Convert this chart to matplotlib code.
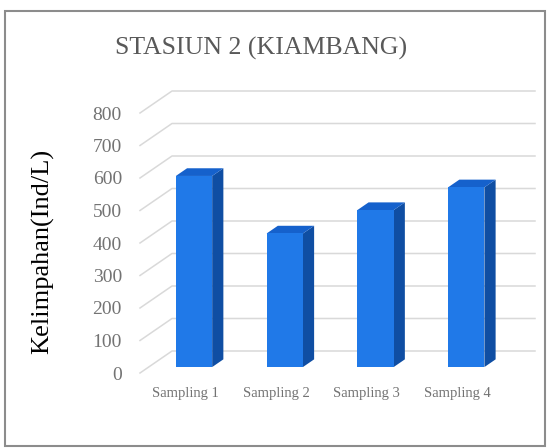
import matplotlib
matplotlib.use("Agg")
import matplotlib.pyplot as plt
from matplotlib.patches import Polygon, Rectangle

plt.rcParams['font.family'] = ['Liberation Serif', 'DejaVu Serif']

categories = ['Sampling 1', 'Sampling 2', 'Sampling 3', 'Sampling 4']
values = [588, 411, 483, 553]
yticks = [0, 100, 200, 300, 400, 500, 600, 700, 800]

W, H = 550, 448
fig = plt.figure(figsize=(W / 100, H / 100), dpi=100)

# front plane of the "3d" box, in pixels
left, right, bottom, top = 140, 503, 373, 113
ax = fig.add_axes([left / W, 1 - bottom / H, (right - left) / W, (bottom - top) / H])
ax.set_xlim(0, 4)
ax.set_ylim(0, 800)
for s in ax.spines.values():
    s.set_visible(False)

# oblique depth offset (data units for full depth)
DX = 32 / ((right - left) / 4)
DY = 22 / ((bottom - top) / 800)


def proj(x, v, d):
    return (x + d * DX, v + d * DY)


grid_c = '#d9d9d9'
for t in yticks:
    x0, y0 = proj(0, t, 0)
    x1, y1 = proj(0, t, 1)
    x2, y2 = proj(4, t, 1)
    ax.plot([x0, x1, x2], [y0, y1, y2], color=grid_c, lw=1.1, clip_on=False, zorder=1)

front_c, side_c, top_c = '#2079e8', '#0f4ea3', '#1561cc'
bw = 0.40
d0, d1 = 0.27, 0.62
for i, v in enumerate(values):
    c = i + 0.5
    xl, xr = c - bw / 2, c + bw / 2
    side = [proj(xr, 0, d0), proj(xr, 0, d1), proj(xr, v, d1), proj(xr, v, d0)]
    topf = [proj(xl, v, d0), proj(xr, v, d0), proj(xr, v, d1), proj(xl, v, d1)]
    front = [proj(xl, 0, d0), proj(xr, 0, d0), proj(xr, v, d0), proj(xl, v, d0)]
    ax.add_patch(Polygon(side, closed=True, fc=side_c, ec='none', clip_on=False, zorder=3))
    ax.add_patch(Polygon(topf, closed=True, fc=top_c, ec='none', clip_on=False, zorder=3))
    ax.add_patch(Polygon(front, closed=True, fc=front_c, ec='none', clip_on=False, zorder=4))

ax.set_yticks(yticks)
ax.set_yticklabels([str(t) for t in yticks], fontsize=14, color='#737373')
ax.set_xticks([i + 0.5 for i in range(len(categories))])
ax.set_xticklabels(categories, fontsize=10.5, color='#737373')
ax.tick_params(axis='y', length=0, pad=13)
ax.tick_params(axis='x', length=0, pad=10)

fig.text(261 / W, 1 - 48 / H, 'STASIUN 2 (KIAMBANG)', ha='center', va='center',
         fontsize=18.6, color='#595959')
fig.text(43 / W, 1 - 251 / H, 'Kelimpahan(Ind/L)', ha='center', va='center',
         rotation=90, fontsize=19, color='black')

fig.add_artist(Rectangle((5 / W, 2 / H), 540 / W, 435 / H, transform=fig.transFigure,
                         fill=False, ec='#8c8c8c', lw=1.5))

fig.savefig('out.png', dpi=100)
